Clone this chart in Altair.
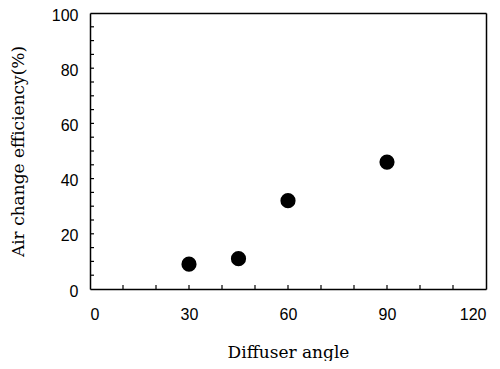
import altair as alt
import pandas as pd

angles = [30, 45, 60, 90]
efficiency = [9, 11, 32, 46]
x_minor = [10, 20, 30, 40, 50, 60, 70, 80, 90, 100, 110]
y_minor = [5, 10, 15, 20, 25, 30, 35, 40, 45, 50, 55, 60, 65, 70, 75, 80, 85, 90, 95]

df = pd.DataFrame({"angle": angles, "eff": efficiency})
xt = pd.DataFrame({"v": x_minor})
yt = pd.DataFrame({"v": y_minor})

W, H = 396, 276
xs = alt.Scale(domain=[0, 120], nice=False)
ys = alt.Scale(domain=[0, 100], nice=False)

points = alt.Chart(df).mark_circle(size=230, color="black", opacity=1).encode(
    x=alt.X("angle:Q", scale=xs,
            axis=alt.Axis(values=[0, 30, 60, 90, 120], title="Diffuser angle",
                          ticks=False, grid=False, labelPadding=17,
                          titlePadding=22, labelFont="Liberation Sans",
                          titleFont="DejaVu Serif", labelFontSize=16,
                          titleFontSize=17, titleFontWeight="normal",
                          labelColor="black", titleColor="black",
                          domainColor="black", domainWidth=1.5)),
    y=alt.Y("eff:Q", scale=ys,
            axis=alt.Axis(values=[0, 20, 40, 60, 80, 100],
                          title="Air change efficiency(%)",
                          ticks=False, grid=False, labelPadding=12,
                          labelOffset=2,
                          titlePadding=24, labelFont="Liberation Sans",
                          titleFont="DejaVu Serif", labelFontSize=16,
                          titleFontSize=17, titleFontWeight="normal",
                          labelColor="black", titleColor="black",
                          domainColor="black", domainWidth=1.5)),
)

frame = alt.Chart(df).mark_circle(opacity=0).encode(
    x=alt.X("angle:Q", scale=xs,
            axis=alt.Axis(orient="top", labels=False, ticks=False, title=None,
                          grid=False, domainColor="black", domainWidth=1.5)),
    y=alt.Y("eff:Q", scale=ys,
            axis=alt.Axis(orient="right", labels=False, ticks=False, title=None,
                          grid=False, domainColor="black", domainWidth=1.5)),
)

xticks = alt.Chart(xt).mark_rule(color="black", strokeWidth=1.2).encode(
    x=alt.X("v:Q", scale=xs, axis=None),
    y=alt.value(H), y2=alt.value(H - 4),
)
yticks = alt.Chart(yt).mark_rule(color="black", strokeWidth=1.2).encode(
    y=alt.Y("v:Q", scale=ys, axis=None),
    x=alt.value(0), x2=alt.value(4),
)

chart = alt.layer(points, frame, xticks, yticks).resolve_axis(
    x="independent", y="independent"
).properties(
    width=W, height=H,
    background="white",
    autosize=alt.AutoSizeParams(type="none"),
    padding={"left": 82, "top": 5, "right": 6, "bottom": 72},
)

chart.save("out.html", embed_options={"renderer": "svg", "actions": False})
